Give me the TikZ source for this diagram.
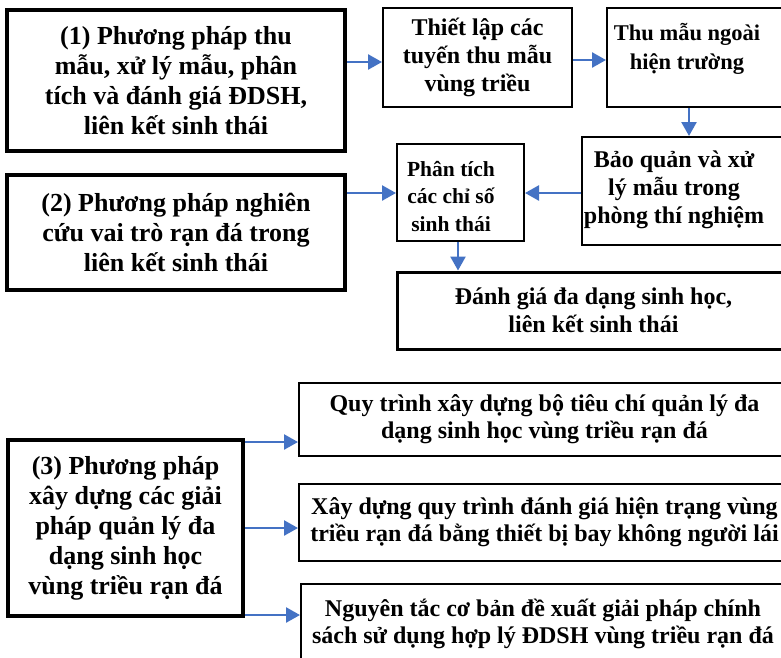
\documentclass[tikz,border=0pt]{standalone}
\usepackage{fontspec}
\setmainfont{Liberation Serif}
\usetikzlibrary{arrows.meta}
\definecolor{arrblue}{HTML}{4472C4}
\tikzset{
  box/.style={draw=black, rectangle, inner sep=0pt, align=center, line width=2pt},
  thickbox/.style={box, line width=4pt},
  txt/.style={inner sep=0pt, align=center},
  big/.style={font=\fontsize{26}{30}\selectfont\bfseries},
  mid/.style={font=\fontsize{24}{28}\selectfont\bfseries},
  arr/.style={draw=arrblue, line width=2.5pt, -{Triangle[length=14pt,width=15pt]}, shorten >=0pt}
}
\begin{document}
\begin{tikzpicture}[x=1pt,y=-1pt]
\useasboundingbox (0,0) rectangle (781,657);
\clip (0,0) rectangle (781,657);
\fill[white] (0,0) rectangle (781,657);

% left method boxes
\node[thickbox, big, minimum width=338pt, minimum height=141pt] (b1) at (176,80.5)
  {(1) Phương pháp thu\\mẫu, xử lý mẫu, phân\\tích và đánh giá ĐDSH,\\liên kết sinh thái};
\node[thickbox, big, line width=3.5pt, minimum width=338pt, minimum height=115pt] (b2) at (176,232.5)
  {(2) Phương pháp nghiên\\cứu vai trò rạn đá trong\\liên kết sinh thái};
\node[thickbox, big, line width=4.5pt, minimum width=235pt, minimum height=176pt] (b3) at (125.5,528)
  {(3) Phương pháp\\xây dựng các giải\\pháp quản lý đa\\dạng sinh học\\vùng triều rạn đá};

% top flow
\node[box, mid, minimum width=189pt, minimum height=99pt] (tl) at (477.5,57.5)
  {Thiết lập các\\tuyến thu mẫu\\vùng triều};
\node[box, minimum width=183pt, minimum height=99pt] (tm) at (698.5,57.5) {};
\node[txt, font=\fontsize{22.5}{29}\selectfont\bfseries] (tmt) at (687,49) {Thu mẫu ngoài\\hiện trường};
\node[box, minimum width=208pt, minimum height=108pt] (bq) at (686,191) {};
\node[txt, mid] (bqt) at (674,190) {Bảo quản và xử\\lý mẫu trong\\phòng thí nghiệm};
\node[box, minimum width=127pt, minimum height=97pt] (pt) at (460.5,192.5) {};
\node[txt, font=\fontsize{21.5}{27.5}\selectfont\bfseries] (ptt) at (451,196.5) {Phân tích\\các chỉ số\\sinh thái};
\node[box, mid, line width=3pt, minimum width=393pt, minimum height=77pt] (dg) at (593.5,310.5)
  {Đánh giá đa dạng sinh học,\\liên kết sinh thái};

% bottom solutions
\node[box, font=\fontsize{24}{27}\selectfont\bfseries, minimum width=491pt, minimum height=73pt] (q1) at (544.5,419.5)
  {Quy trình xây dựng bộ tiêu chí quản lý đa\\dạng sinh học vùng triều rạn đá};
\node[box, font=\fontsize{24}{27}\selectfont\bfseries, minimum width=491pt, minimum height=77pt] (q2) at (544.5,522.5)
  {Xây dựng quy trình đánh giá hiện trạng vùng\\triều rạn đá bằng thiết bị bay không người lái};
\node[box, minimum width=489pt, minimum height=86pt] (q3) at (545.5,627) {};
\node[txt, font=\fontsize{24}{27}\selectfont\bfseries] (q3t) at (543,623.5)
  {Nguyên tắc cơ bản đề xuất giải pháp chính\\sách sử dụng hợp lý ĐDSH vùng triều rạn đá};

% connectors
\draw[arr] (b1.east |- 0,62) -- (tl.west |- 0,62);
\draw[arr] (tl.east |- 0,60) -- (tm.west |- 0,60);
\draw[arr] (tm.south -| 689,0) -- (bq.north -| 689,0);
\draw[arr] (bq.west |- 0,193) -- (pt.east |- 0,193);
\draw[arr] (b2.east |- 0,193) -- (pt.west |- 0,193);
\draw[arr] (pt.south -| 458,0) -- (dg.north -| 458,0);
\draw[arr] (b3.east |- 0,442) -- (q1.west |- 0,442);
\draw[arr] (b3.east |- 0,528) -- (q2.west |- 0,528);
\draw[arr] (b3.east |- 0,615) -- (q3.west |- 0,615);
\end{tikzpicture}
\end{document}
